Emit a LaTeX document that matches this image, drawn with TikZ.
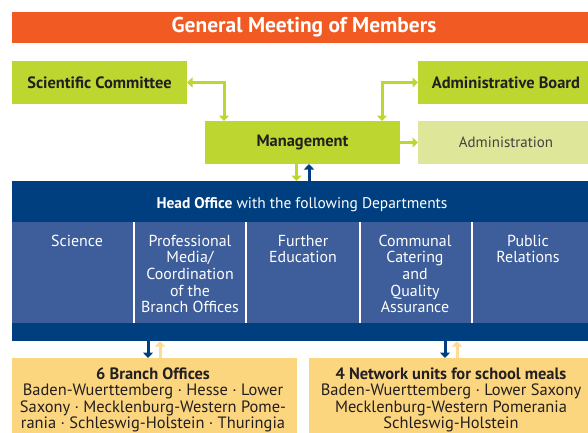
\documentclass[tikz,border=0pt]{standalone}
\usepackage{fontspec}
\setmainfont{PT Sans}
\usetikzlibrary{arrows.meta}
\definecolor{orng}{HTML}{F15A22}
\definecolor{lime}{HTML}{BED630}
\definecolor{paleg}{HTML}{DDE699}
\definecolor{navy}{HTML}{003F7F}
\definecolor{midb}{HTML}{3D5E9A}
\definecolor{sand}{HTML}{FCD57F}
\definecolor{sandlt}{HTML}{FDDC95}
\definecolor{ink}{HTML}{231F20}
\begin{document}
\begin{tikzpicture}[x=1bp,y=-1bp,
  box/.style={inner sep=0pt, outer sep=0pt, anchor=north west, minimum height=43bp},
  gbox/.style={box, fill=lime, text=ink, font=\bfseries\fontsize{16.5}{18}\selectfont},
  garrow/.style={draw=lime, line width=3bp, -{Triangle[width=10bp,length=5.5bp]}},
  gdouble/.style={draw=lime, line width=3bp, {Triangle[width=10bp,length=5.5bp]}-{Triangle[width=10bp,length=5.5bp]}},
  barrow/.style={draw=navy, line width=3bp, -{Triangle[width=10bp,length=5.5bp]}},
  sarrow/.style={draw=sandlt, line width=3bp, -{Triangle[width=10bp,length=5.5bp]}},
  dept/.style={anchor=base, inner sep=0pt, align=center, text=white, font=\fontsize{16}{16.7}\selectfont},
  ytext/.style={anchor=base, inner sep=0pt, align=center, text=ink, font=\fontsize{16.5}{16.5}\selectfont}]
\useasboundingbox (0,0) rectangle (588,432);
\clip (0,0) rectangle (588,432);
% top bar
\node[box, fill=orng, minimum width=584bp, minimum height=31bp, text=white,
      font=\bfseries\fontsize{21.5}{23}\selectfont] (gm) at (12,12) {General Meeting of Members};
% green boxes
\node[gbox, minimum width=175bp] (sc) at (12,61) {Scientific Committee};
\node[gbox, minimum width=176bp] (ab) at (418,61) {Administrative Board};
\node[gbox, minimum width=195bp] (mg) at (205,121) {Management};
\node[box, fill=paleg, minimum width=176bp, text=ink!85,
      font=\fontsize{15}{17}\selectfont] (ad) at (418,121) {Administration};
% head office
\node[box, fill=navy, minimum width=584bp, minimum height=160bp] (ho) at (12,181) {};
\fill[midb] (12,222) rectangle (596,323);
\foreach \sx in {134,246,360,472} \fill[white] (\sx-1.2,222) rectangle (\sx+1.2,323);
\node[anchor=base, inner sep=0pt, text=white, font=\fontsize{15.5}{17}\selectfont] (hot) at (302,208)
  {\textbf{Head Office} with the following Departments};
% anchor=base is the baseline of the last line: first line baseline at 246, leading 16.7
\node[dept] (d1) at (77,246) {Science};
\node[dept] (d2) at (190,312.8) {Professional\\Media/\\Coordination\\of the\\Branch Offices};
\node[dept] (d3) at (303,262.7) {Further\\Education};
\node[dept] (d4) at (415,312.8) {Communal\\Catering\\and\\Quality\\Assurance};
\node[dept] (d5) at (528,262.7) {Public\\Relations};
% bottom boxes
\node[box, fill=sand, minimum width=285bp, minimum height=90bp] (bo) at (12,358) {};
\node[box, fill=sand, minimum width=287bp, minimum height=90bp] (nu) at (309,358) {};
\node[ytext] (bot) at (153,428.5) {\textbf{6 Branch Offices}\\Baden-Wuerttemberg · Hesse · Lower\\Saxony · Mecklenburg-Western Pome-\\rania · Schleswig-Holstein · Thuringia};
\node[ytext] (nut) at (451,428.5) {\textbf{4 Network units for school meals}\\Baden-Wuerttemberg · Lower Saxony\\Mecklenburg-Western Pomerania\\Schleswig-Holstein};
% connectors
\draw[gdouble] (sc.east) -| ([xshift=19bp]mg.north west);
\draw[gdouble] (ab.west) -| ([xshift=-18bp]mg.north east);
\draw[garrow] (mg.east) -- (ad.west);
\draw[garrow] ([xshift=-6bp]mg.south) -- ([xshift=-6bp]mg.south |- ho.north);
\draw[barrow] ([xshift=6.5bp]mg.south |- ho.north) -- ([xshift=6.5bp]mg.south);
\draw[barrow] ([xshift=-6.5bp]bo.north |- ho.south) -- ([xshift=-6.5bp]bo.north);
\draw[sarrow] ([xshift=5.5bp]bo.north) -- ([xshift=5.5bp]bo.north |- ho.south);
\draw[barrow] ([xshift=-7.5bp]nu.north |- ho.south) -- ([xshift=-7.5bp]nu.north);
\draw[sarrow] ([xshift=4.5bp]nu.north) -- ([xshift=4.5bp]nu.north |- ho.south);
\end{tikzpicture}
\end{document}
